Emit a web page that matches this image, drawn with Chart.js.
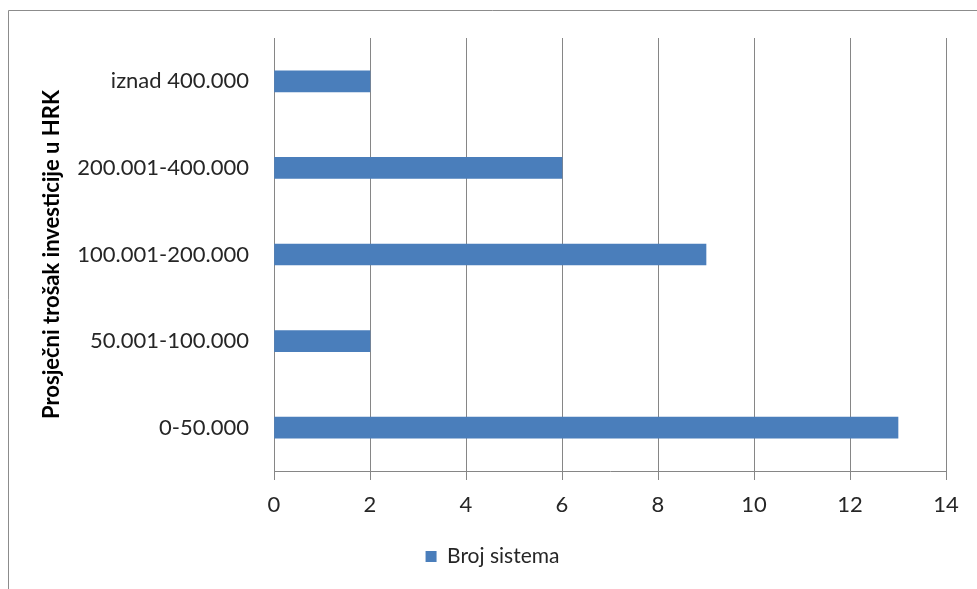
<!DOCTYPE html>
<html>
<head>
<meta charset="utf-8">
<script src="https://cdn.jsdelivr.net/npm/chart.js@4"></script>
<style>
  html, body { margin: 0; padding: 0; background: #fff; }
</style>
</head>
<body>
<canvas id="investChart" width="977" height="589"></canvas>
<script>
// categories, top to bottom as in the picture
const categories = ['iznad 400.000', '200.001-400.000', '100.001-200.000', '50.001-100.000', '0-50.000'];
const brojSistema = [2, 6, 9, 2, 13];
const seriesName = 'Broj sistema';
const axisTitle = 'Prosječni trošak investicije u HRK';
const xTicks = [0, 2, 4, 6, 8, 10, 12, 14];

const textColor = '#262626';
const gridColor = '#868686';
const fontFamily = 'Lato, "Open Sans", sans-serif';

// white background and the thin frame at the top and left
const framePlugin = {
  id: 'frame',
  beforeDraw(chart) {
    const ctx = chart.ctx;
    ctx.save();
    ctx.fillStyle = '#fff';
    ctx.fillRect(0, 0, chart.width, chart.height);
    ctx.strokeStyle = '#8c8c8c';
    ctx.lineWidth = 1;
    ctx.beginPath();
    ctx.moveTo(8.5, chart.height);
    ctx.lineTo(8.5, 10.5);
    ctx.lineTo(chart.width, 10.5);
    ctx.stroke();
    ctx.restore();
  }
};

new Chart(document.getElementById('investChart'), {
  type: 'bar',
  data: {
    labels: categories,
    datasets: [{
      label: seriesName,
      data: brojSistema,
      backgroundColor: '#4A7EBB',
      borderWidth: 0,
      barThickness: 21
    }]
  },
  options: {
    indexAxis: 'y',
    responsive: false,
    animation: false,
    layout: { padding: { left: 39, top: 38, right: 31, bottom: 12 } },
    plugins: {
      legend: {
        position: 'bottom',
        labels: {
          color: textColor,
          font: { family: fontFamily, size: 21 },
          boxWidth: 11,
          boxHeight: 11,
          padding: 10
        }
      },
      tooltip: { enabled: false }
    },
    scales: {
      x: {
        min: 0,
        max: 14,
        afterBuildTicks(scale) { scale.ticks = xTicks.map(v => ({ value: v })); },
        afterFit(scale) { scale.height = 65; },
        grid: { color: gridColor, tickLength: 9, tickColor: gridColor },
        border: { color: gridColor },
        ticks: { color: textColor, padding: 12, font: { family: fontFamily, size: 22 } }
      },
      y: {
        afterFit(scale) { scale.width = 235; },
        grid: { display: false },
        border: { display: true, color: gridColor },
        ticks: { color: textColor, padding: 17, font: { family: fontFamily, size: 22 } },
        title: {
          display: true,
          text: axisTitle,
          color: '#000',
          padding: 0,
          font: { family: fontFamily, size: 22, weight: 'bold' }
        }
      }
    }
  },
  plugins: [framePlugin]
});
</script>
</body>
</html>
